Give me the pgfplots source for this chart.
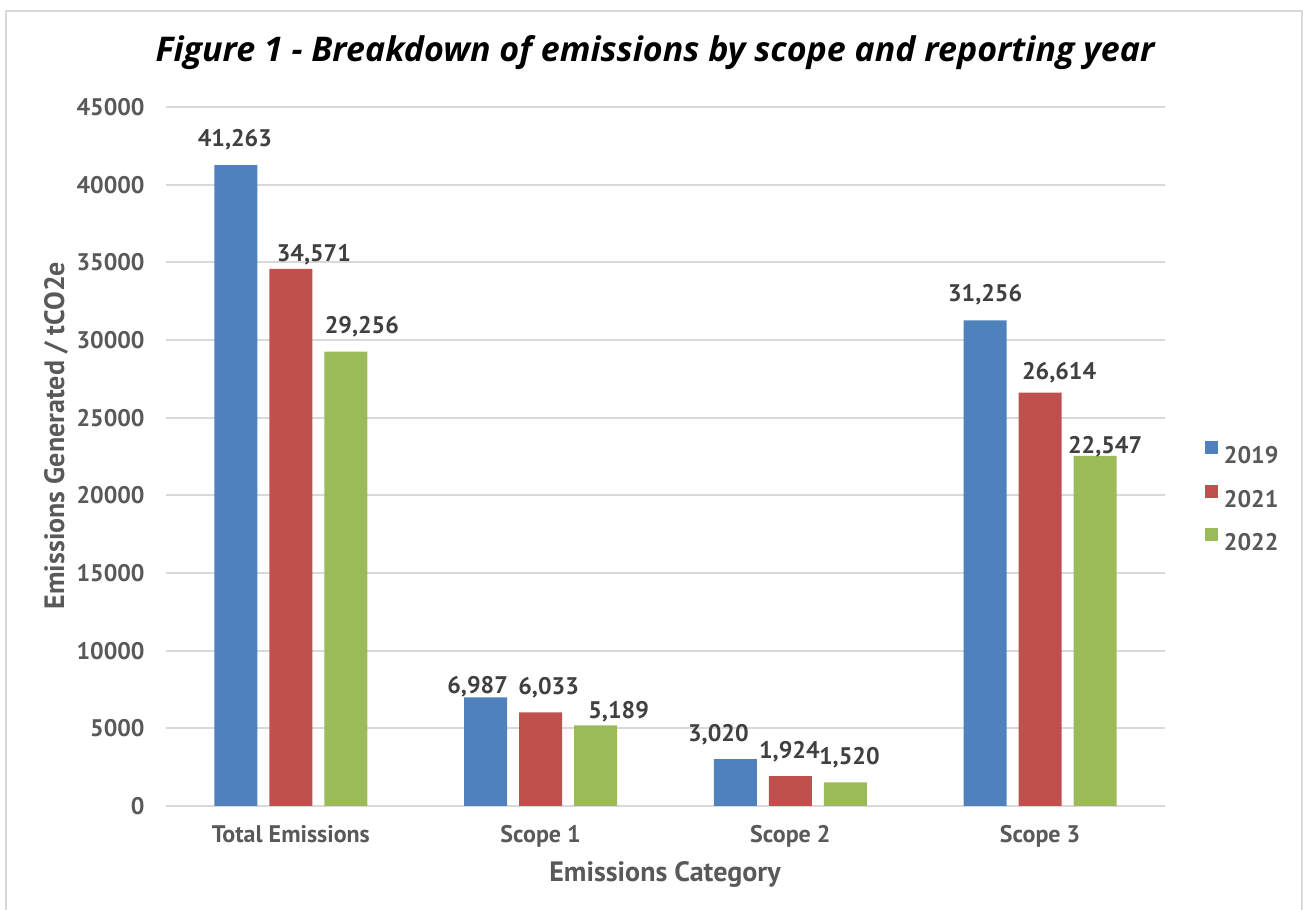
\documentclass[border=0pt]{standalone}
\usepackage{pgfplots}
\pgfplotsset{compat=1.18}
\usepackage{pgfplotstable}
\usepackage{fontspec}
\setmainfont{PT Sans}
\newfontfamily\titlefont{Open Sans}
\definecolor{c19}{HTML}{4F81BD}
\definecolor{c21}{HTML}{C0504D}
\definecolor{c22}{HTML}{9BBB59}
\definecolor{gridc}{HTML}{D9D9D9}
\definecolor{tickc}{HTML}{595959}
\definecolor{labc}{HTML}{404040}

% x = category index, y = value, dx/dy = label offset in bp (dx includes the bar shift)
\pgfplotstableread{
x y dx dy
0 41263 -28 12.5
1 6987 -31.5 5.5
2 3020 -36 12
3 31256 -27.5 13
}\tA
\pgfplotstableread{
x y dx dy
0 34571 11.5 7
1 6033 4 12.5
2 1924 -0.5 12
3 26614 9.5 10
}\tB
\pgfplotstableread{
x y dx dy
0 29256 35.5 12.5
1 5189 39 7
2 1520 29.5 12.5
3 22547 32.5 4.5
}\tC

\begin{document}
\begin{tikzpicture}
\begin{axis}[
  at={(83bp,52bp)}, anchor=south west,
  scale only axis, width=499.5bp, height=349.5bp,
  xmin=-0.5, xmax=3.5, ymin=0, ymax=45000,
  xtick={0,1,2,3},
  xticklabels={Total Emissions,Scope 1,Scope 2,Scope 3},
  ytick={0,5000,...,45000},
  scaled y ticks=false,
  /pgf/number format/assume math mode=true,
  yticklabel style={/pgf/number format/1000 sep={}, font=\fontsize{12bp}{14bp}\selectfont\bfseries, text=tickc, anchor=east, inner sep=0pt, xshift=-10.5bp},
  xticklabel style={font=\fontsize{12bp}{14bp}\selectfont\bfseries, text=tickc, anchor=base, inner sep=0pt, yshift=-18.5bp},
  major tick length=0pt,
  axis line style={draw=none},
  ymajorgrids, grid style={gridc, line width=1bp},
  xlabel={Emissions Category},
  xlabel style={at={(axis description cs:0.4995,-0.1073)}, anchor=base, font=\fontsize{14bp}{16bp}\selectfont\bfseries, text=tickc},
  ylabel={Emissions Generated / tCO2e},
  ylabel style={at={(axis description cs:-0.1021,0.530)}, anchor=base, font=\fontsize{14bp}{16bp}\selectfont\bfseries, text=tickc},
  nodes near coords={\pgfmathprintnumber[fixed,precision=0,1000 sep={,}]{\pgfplotspointmeta}},
  nodes near coords align={center},
  visualization depends on={\thisrow{dx} \as \dx},
  visualization depends on={\thisrow{dy} \as \dy},
  every node near coord/.append style={anchor=center, inner sep=0pt, xshift={\dx*1bp}, yshift={\dy*1bp}, font=\fontsize{12bp}{14bp}\selectfont\bfseries, text=labc},
  legend style={at={(axis description cs:1.040,0.4435)}, anchor=west, draw=none, fill=none, inner sep=0pt, outer sep=0pt, font=\fontsize{12bp}{14bp}\selectfont\bfseries, text=tickc, row sep=10.4bp, column sep=3bp, nodes={inner sep=0pt, text height=8.6bp, text depth=0pt}},
  legend cell align=left,
  legend image code/.code={\fill[#1] (0bp,0.5bp) rectangle (6.5bp,7bp);},
]
\addplot[ybar, bar width=21.5bp, bar shift=-27.5bp, fill=c19, draw=none] table[x=x,y=y]{\tA};
\addplot[ybar, bar width=21.5bp, bar shift=0bp, fill=c21, draw=none] table[x=x,y=y]{\tB};
\addplot[ybar, bar width=21.5bp, bar shift=27.5bp, fill=c22, draw=none] table[x=x,y=y]{\tC};
\legend{2019,2021,2022}
\end{axis}
\node[anchor=base, inner sep=0pt, font=\titlefont\fontsize{17bp}{20bp}\selectfont\bfseries\itshape, text=black] at (327.5bp,424bp) {Figure 1 - Breakdown of emissions by scope and reporting year};
\draw[gridc, line width=1bp] (3bp,-5bp) rectangle (651bp,449.5bp);
\pgfresetboundingbox
\path[use as bounding box] (0bp,0bp) rectangle (651.5bp,455bp);
\end{tikzpicture}
\end{document}
